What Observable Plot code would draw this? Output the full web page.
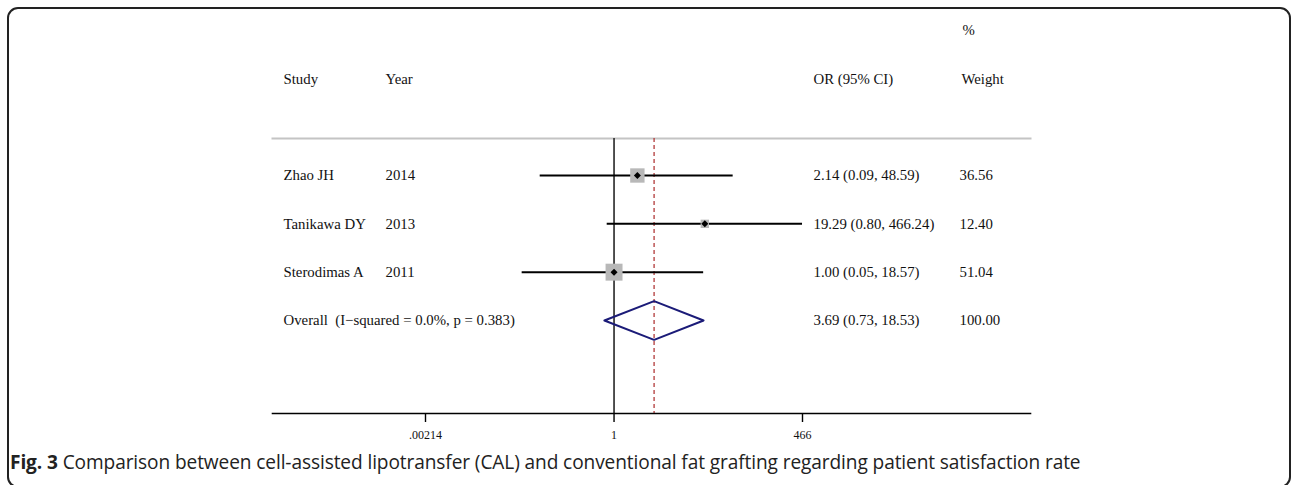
<!DOCTYPE html>
<html><head><meta charset="utf-8">
<script src="https://cdn.jsdelivr.net/npm/d3@7"></script>
<script src="https://cdn.jsdelivr.net/npm/@observablehq/plot@0.6"></script>
<style>
html,body{margin:0;padding:0;overflow:hidden;background:#fff;}
#frame{position:absolute;left:7px;top:7px;width:1284px;height:481px;border:2px solid #222;border-radius:11px;box-sizing:border-box;pointer-events:none;}
#chart{position:relative;height:450px;}
#chart svg{display:block;}
#caption{position:relative;font-family:"Open Sans",sans-serif;font-size:19.1px;line-height:25px;padding-left:10px;color:#222;white-space:nowrap;letter-spacing:-0.1px;}
#caption b{font-weight:700;}
</style></head><body>
<div id="frame"></div>
<div id="chart"></div>
<div id="caption"><b>Fig. 3</b> Comparison between cell-assisted lipotransfer (CAL) and conventional fat grafting regarding patient satisfaction rate</div>
<script>
// ---- data ----
const studies = ["Zhao JH", "Tanikawa DY", "Sterodimas A"];
const years = ["2014", "2013", "2011"];
const orValues = [2.14, 19.29, 1.00];
const lowerCI = [0.09, 0.80, 0.05];
const upperCI = [48.59, 466.24, 18.57];
const weights = [36.56, 12.40, 51.04];
const overallLabel = "Overall  (I\u2212squared = 0.0%, p = 0.383)";
const overallOR = 3.69, overallLower = 0.73, overallUpper = 18.53, overallWeight = 100.00;
const tickValues = [0.00214, 1, 466];
const tickLabels = [".00214", "1", "466"];
const headerLabels = ["Study", "Year", "OR (95% CI)", "Weight"];
const percentLabel = "%";

// ---- build tables ----
const rows = studies.map((s, i) => ({
  study: s, year: years[i], or: orValues[i], lower: lowerCI[i], upper: upperCI[i],
  weight: weights[i], row: i + 1,
  ciText: `${orValues[i].toFixed(2)} (${lowerCI[i].toFixed(2)}, ${upperCI[i].toFixed(2)})`,
  wText: weights[i].toFixed(2)
}));
const overallRow = studies.length + 1;
const overall = [{
  label: overallLabel, row: overallRow,
  ciText: `${overallOR.toFixed(2)} (${overallLower.toFixed(2)}, ${overallUpper.toFixed(2)})`,
  wText: overallWeight.toFixed(2)
}];
const halfH = 0.4;
const diamond = [
  {x: overallLower, y: overallRow},
  {x: overallOR, y: overallRow - halfH},
  {x: overallUpper, y: overallRow},
  {x: overallOR, y: overallRow + halfH},
  {x: overallLower, y: overallRow}
];
const headerRow = [{row: -1}];
const pctRow = [{row: -2}];
const ticks = tickValues.map((v, i) => ({v, label: tickLabels[i]}));

const font = "Liberation Serif, Times New Roman, serif";
const tcol = (data, text, dx) => Plot.text(data, {
  y: "row", text, frameAnchor: "left", dx, textAnchor: "start",
  fontFamily: font, fontSize: 14.8, fill: "#111"
});

const chart = Plot.plot({
  width: 1292,
  height: 450,
  marginLeft: 272,
  marginRight: 262,
  marginTop: 138,
  marginBottom: 37,
  style: {background: "transparent", overflow: "visible"},
  x: {type: "log", domain: [tickValues[0], tickValues[2]], range: [425, 802]},
  y: {domain: [1, 4], range: [175, 320], axis: null},
  r: {type: "sqrt", domain: [0, 100], range: [0, 13.4]},
  marks: [
    Plot.frame({anchor: "top", stroke: "#c4c4c4", strokeWidth: 2}),
    Plot.ruleX([1], {stroke: "#333", strokeWidth: 1.7}),
    Plot.ruleX([overallOR], {stroke: "#b23a3a", strokeWidth: 1.3, strokeDasharray: "4,3"}),
    Plot.ruleY(rows, {x1: "lower", x2: "upper", y: "row", stroke: "#000", strokeWidth: 2}),
    Plot.dot(rows, {x: "or", y: "row", r: "weight", symbol: "square", fill: "#b8b8b8", stroke: "none"}),
    Plot.dot(rows, {x: "or", y: "row", r: 2.8, symbol: "square", rotate: 45, fill: "#000", stroke: "none"}),
    Plot.line(diamond, {x: "x", y: "y", stroke: "#1b1b78", strokeWidth: 2, curve: "linear"}),
    // columns
    tcol(rows, "study", 11),
    tcol(rows, "year", 113),
    tcol(overall, "label", 11),
    tcol(rows, "ciText", 541),
    tcol(overall, "ciText", 541),
    tcol(rows, "wText", 687),
    tcol(overall, "wText", 687),
    // headers
    tcol(headerRow, () => headerLabels[0], 11),
    tcol(headerRow, () => headerLabels[1], 113),
    tcol(headerRow, () => headerLabels[2], 541),
    tcol(headerRow, () => headerLabels[3], 689),
    tcol(pctRow, () => percentLabel, 690),
    // axis
    Plot.frame({anchor: "bottom", stroke: "#000", strokeWidth: 1.6}),
    Plot.axisX({
      ticks: tickValues, tickFormat: () => "",
      tickSize: 9, stroke: "#000", strokeWidth: 1.4, label: null
    }),
    Plot.text(ticks, {
      x: "v", text: "label", frameAnchor: "bottom", dy: 25,
      fontFamily: font, fontSize: 12, fill: "#111"
    })
  ]
});
document.getElementById("chart").appendChild(chart);
</script>
</body></html>
